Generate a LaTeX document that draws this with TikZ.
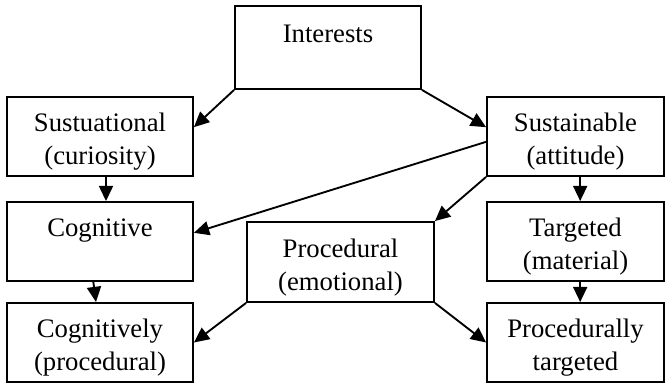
\documentclass[tikz,border=0pt]{standalone}
\usepackage{fontspec}
\setmainfont{Liberation Serif}
\usetikzlibrary{arrows.meta}
\begin{document}
\begin{tikzpicture}[
x=0.015cm,y=-0.015cm,
every node/.style={rectangle,draw,line width=0.8pt,align=center,inner sep=0pt,
	text height=27pt,text depth=3pt,font=\fontsize{11.4}{14}\selectfont},
wide/.style={minimum width=2.79cm,minimum height=1.185cm},
narrow/.style={minimum width=2.655cm,minimum height=1.185cm},
link/.style={-{Triangle[length=6.5pt,width=6pt]},line width=0.8pt}
]
\useasboundingbox (0,0) rectangle (665,383);
\node(interests)[minimum width=2.79cm,minimum height=1.245cm] at (328,47.5) {Interests\\\strut};
\node(sustuational)[wide] at (100,136.5) {Sustuational\\(curiosity)};
\node(sustainable)[narrow] at (575.5,136.5) {Sustainable\\(attitude)};
\node(cognitive)[wide] at (100,241.5) {Cognitive\\\strut};
\node(procedural)[minimum width=2.805cm,minimum height=1.2cm] at (340.5,262) {Procedural\\(emotional)};
\node(targeted)[narrow] at (575.5,241.5) {Targeted\\(material)};
\node(cognitively)[wide] at (100,342.5) {Cognitively\\(procedural)};
\node(procedurally)[narrow] at (575.5,342.5) {Procedurally\\targeted};
% links
\draw[link] (interests.south west) -- ([yshift=0.14cm]sustuational.east);
\draw[link] (interests.south east) -- ([yshift=0.14cm]sustainable.west);
\draw[link] ([xshift=0.09cm]sustuational.south) -- ([xshift=0.09cm]cognitive.north);
\draw[link] ([yshift=-0.08cm]sustainable.west) -- ([yshift=0.13cm]cognitive.east);
\draw[link] (sustainable.south west) -- (procedural.north east);
\draw[link] ([xshift=0.07cm]sustainable.south) -- ([xshift=0.07cm]targeted.north);
\draw[link] ([xshift=-0.1cm]cognitive.south) -- ([xshift=-0.06cm]cognitively.north);
\draw[link] (procedural.south west) -- (cognitively.east);
\draw[link] (procedural.south east) -- (procedurally.west);
\draw[link] ([xshift=0.07cm]targeted.south) -- ([xshift=0.07cm]procedurally.north);
\end{tikzpicture}
\end{document}
